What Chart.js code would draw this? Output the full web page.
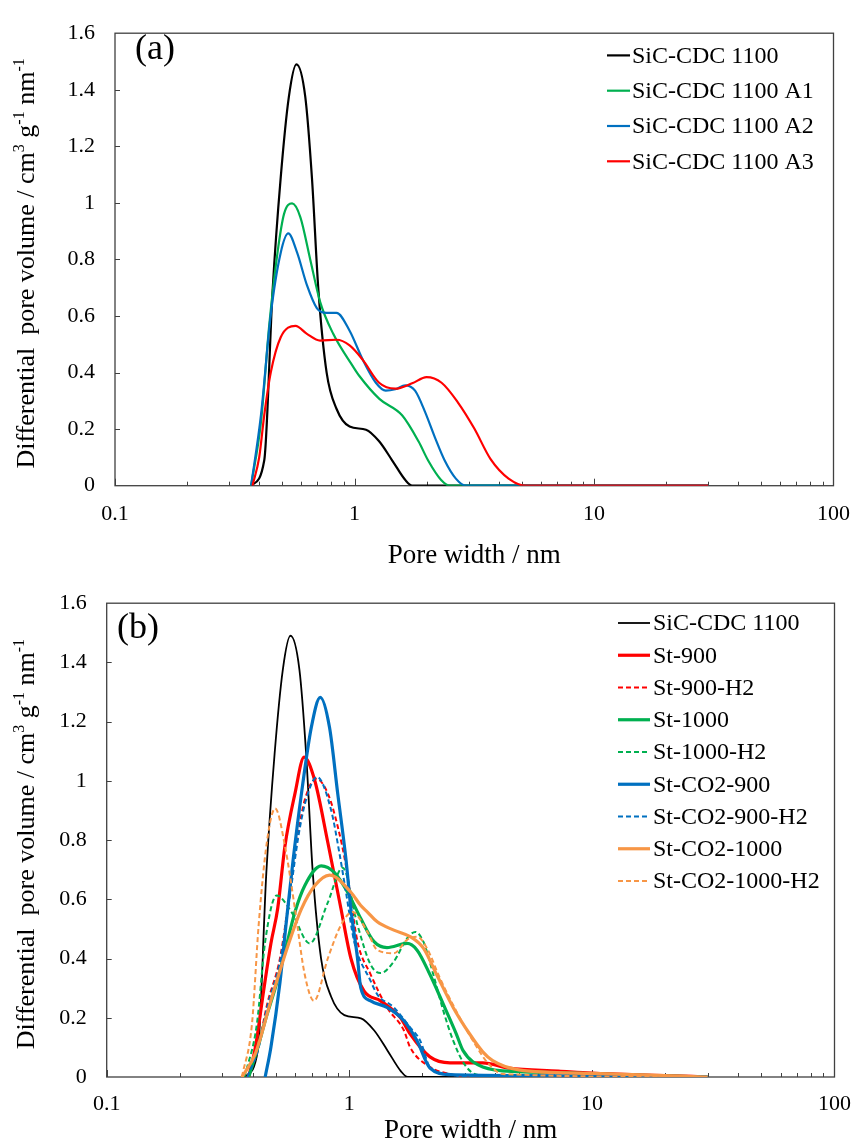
<!DOCTYPE html>
<html lang="en">
<head>
  <meta charset="UTF-8" />
  <title>Pore size distribution</title>
  <script src="https://cdn.jsdelivr.net/npm/chart.js"></script>
  <style>
    body { margin: 0; background: #fff; }
    .panel { position: absolute; left: 0; width: 865px; }
    #panelA { top: 0; height: 570px; }
    #panelB { top: 570px; height: 572px; }
  </style>
</head>
<body>
  <div class="panel" id="panelA"><canvas id="chartA"></canvas></div>
  <div class="panel" id="panelB"><canvas id="chartB"></canvas></div>

  <script>
    // ---- tick values ----
    const xTickValues = [0.1, 1, 10, 100];
    const yMin = 0, yMax = 1.6, yStep = 0.2;

    // ---- shared reference sample ----
    const cdcX = [0.37, 0.42, 0.455, 0.492, 0.532, 0.572, 0.623, 0.664, 0.707, 0.765, 0.841, 0.954, 1.117, 1.267, 1.438, 1.63, 1.74, 30];
    const cdcY = [0, 0.09, 0.69, 1.09, 1.375, 1.49, 1.375, 1.09, 0.69, 0.40, 0.272, 0.209, 0.198, 0.157, 0.089, 0.02, 0, 0];

    // ---- panel (a) ----
    const labelsA = ['SiC-CDC 1100', 'SiC-CDC 1100 A1', 'SiC-CDC 1100 A2', 'SiC-CDC 1100 A3'];
    const a1X = [0.37, 0.407, 0.441, 0.477, 0.508, 0.549, 0.594, 0.653, 0.718, 0.815, 0.985, 1.05, 1.27, 1.58, 1.85, 2.03, 2.3, 2.5, 30];
    const a1Y = [0, 0.226, 0.571, 0.824, 0.961, 0.998, 0.95, 0.801, 0.651, 0.537, 0.422, 0.387, 0.307, 0.249, 0.157, 0.089, 0.02, 0, 0];
    const a2X = [0.37, 0.407, 0.447, 0.492, 0.529, 0.576, 0.633, 0.696, 0.765, 0.841, 0.954, 1.083, 1.228, 1.35, 1.48, 1.63, 1.79, 1.97, 2.17, 2.38, 2.65, 2.92, 30];
    const a2Y = [0, 0.25, 0.605, 0.824, 0.892, 0.824, 0.709, 0.628, 0.611, 0.611, 0.548, 0.445, 0.364, 0.336, 0.341, 0.355, 0.336, 0.261, 0.169, 0.089, 0.025, 0, 0];
    const a3X = [0.375, 0.40, 0.42, 0.447, 0.492, 0.567, 0.633, 0.718, 0.841, 0.954, 1.083, 1.267, 1.48, 1.74, 2.0, 2.31, 2.7, 3.16, 3.7, 4.4, 5.2, 30];
    const a3Y = [0, 0.1, 0.25, 0.40, 0.525, 0.565, 0.537, 0.513, 0.516, 0.496, 0.445, 0.364, 0.343, 0.362, 0.384, 0.364, 0.295, 0.203, 0.094, 0.025, 0, 0];

    // ---- panel (b) ----
    const labelsB = ['SiC-CDC 1100', 'St-900', 'St-900-H2', 'St-1000', 'St-1000-H2', 'St-CO2-900', 'St-CO2-900-H2', 'St-CO2-1000', 'St-CO2-1000-H2'];
    const st900X = [0.385, 0.41, 0.445, 0.475, 0.507, 0.543, 0.597, 0.651, 0.72, 0.816, 0.924, 1.015, 1.151, 1.345, 1.623, 1.78, 2.15, 2.6, 3.55, 4.56, 7.28, 10, 20, 30];
    const st900Y = [0, 0.1, 0.3, 0.45, 0.57, 0.78, 0.957, 1.08, 1.002, 0.791, 0.568, 0.401, 0.29, 0.257, 0.201, 0.146, 0.068, 0.048, 0.048, 0.03, 0.02, 0.013, 0.005, 0];
    const st900h2X = [0.38, 0.42, 0.46, 0.518, 0.569, 0.616, 0.655, 0.731, 0.816, 0.896, 0.969, 1.081, 1.225, 1.43, 1.68, 1.78, 2.15, 2.6, 3.0, 30];
    const st900h2Y = [0, 0.1, 0.25, 0.401, 0.624, 0.824, 0.935, 1.007, 0.957, 0.846, 0.713, 0.457, 0.346, 0.235, 0.157, 0.101, 0.034, 0.01, 0, 0];
    const st1000X = [0.385, 0.42, 0.45, 0.495, 0.543, 0.597, 0.655, 0.766, 0.869, 0.984, 1.115, 1.265, 1.43, 1.73, 1.9, 2.15, 2.44, 2.76, 2.94, 3.55, 5, 7.3, 13.6, 30];
    const st1000Y = [0, 0.1, 0.19, 0.3, 0.424, 0.557, 0.646, 0.713, 0.69, 0.624, 0.535, 0.457, 0.437, 0.451, 0.429, 0.346, 0.246, 0.146, 0.09, 0.034, 0.018, 0.015, 0.007, 0];
    const st1000h2X = [0.37, 0.416, 0.45, 0.502, 0.578, 0.687, 0.816, 0.939, 1.081, 1.225, 1.345, 1.526, 1.73, 1.87, 2.02, 2.22, 2.44, 2.68, 3.0, 3.4, 30];
    const st1000h2Y = [0, 0.179, 0.457, 0.613, 0.557, 0.451, 0.59, 0.707, 0.513, 0.379, 0.351, 0.39, 0.468, 0.49, 0.457, 0.346, 0.224, 0.123, 0.04, 0.007, 0];
    const co900X = [0.45, 0.475, 0.518, 0.551, 0.587, 0.635, 0.697, 0.759, 0.829, 0.896, 0.969, 1.015, 1.081, 1.115, 1.225, 1.43, 1.68, 1.9, 2.15, 2.6, 5, 15, 30];
    const co900Y = [0, 0.1, 0.32, 0.53, 0.735, 0.957, 1.18, 1.282, 1.18, 0.957, 0.735, 0.568, 0.401, 0.301, 0.257, 0.235, 0.19, 0.123, 0.03, 0.008, 0.005, 0.003, 0];
    const co900h2X = [0.38, 0.42, 0.46, 0.518, 0.569, 0.616, 0.66, 0.736, 0.841, 0.91, 0.969, 1.048, 1.225, 1.304, 1.526, 1.78, 1.96, 2.15, 2.6, 3.0, 30];
    const co900h2Y = [0, 0.09, 0.24, 0.39, 0.61, 0.81, 0.93, 1.013, 0.902, 0.757, 0.624, 0.457, 0.324, 0.279, 0.235, 0.168, 0.123, 0.034, 0.01, 0, 0];
    const co1000X = [0.361, 0.41, 0.479, 0.56, 0.635, 0.72, 0.829, 1.015, 1.115, 1.188, 1.304, 1.526, 1.78, 2.02, 2.29, 2.68, 3.13, 3.55, 3.9, 5.0, 10, 20, 30];
    const co1000Y = [0, 0.079, 0.268, 0.446, 0.568, 0.646, 0.682, 0.624, 0.579, 0.557, 0.524, 0.496, 0.474, 0.435, 0.346, 0.235, 0.146, 0.085, 0.055, 0.024, 0.012, 0.005, 0];
    const co1000h2X = [0.361, 0.397, 0.423, 0.457, 0.495, 0.543, 0.597, 0.655, 0.715, 0.816, 0.924, 1.03, 1.188, 1.3, 1.526, 1.73, 1.9, 2.09, 2.36, 2.85, 3.23, 3.7, 4.3, 30];
    const co1000h2Y = [0, 0.179, 0.513, 0.791, 0.907, 0.78, 0.568, 0.346, 0.257, 0.401, 0.513, 0.557, 0.49, 0.43, 0.418, 0.463, 0.474, 0.435, 0.335, 0.201, 0.123, 0.05, 0.01, 0];

    // ---- styles ----
    const BLACK = '#000000', GREEN = '#00b050', BLUE = '#0070c0', RED = '#ff0000', ORANGE = '#f79646';
    const frameColor = '#404040';
    const serif = "'Liberation Serif', 'Times New Roman', serif";
    const DASH = [5, 3];

    function pts(xs, ys) {
      return xs.map((x, i) => ({ x: x, y: ys[i] }));
    }

    function series(label, xs, ys, color, width, dash, i) {
      return {
        label: label,
        data: pts(xs, ys),
        borderColor: color,
        backgroundColor: color,
        borderWidth: width,
        borderDash: dash || [],
        pointRadius: 0,
        fill: false,
        cubicInterpolationMode: 'monotone',
        order: -i
      };
    }

    // axes decoration, legend and titles
    const decor = {
      id: 'decor',
      beforeDatasetsDraw(chart, args, o) {
        const { ctx, chartArea: a, scales } = chart;
        const x = scales.x, y = scales.y;
        ctx.save();
        ctx.strokeStyle = frameColor;
        ctx.lineWidth = 1.3;
        ctx.strokeRect(a.left, a.top, a.right - a.left, a.bottom - a.top);
        ctx.lineWidth = 1;
        ctx.beginPath();
        for (let e = -1; e <= 1; e++) {
          for (let k = 1; k <= 9; k++) {
            const v = k * Math.pow(10, e);
            const px = Math.round(x.getPixelForValue(v)) + 0.5;
            const len = k === 1 ? 7 : 4;
            ctx.moveTo(px, a.bottom);
            ctx.lineTo(px, a.bottom - len);
          }
        }
        for (let v = yMin + yStep; v < yMax - 0.01; v += yStep) {
          const py = Math.round(y.getPixelForValue(v)) + 0.5;
          ctx.moveTo(a.left, py);
          ctx.lineTo(a.left + 5, py);
        }
        ctx.stroke();
        ctx.restore();
      },
      afterDraw(chart, args, o) {
        const { ctx, chartArea: a } = chart;
        ctx.save();
        ctx.fillStyle = '#000';

        // panel label
        ctx.font = '36px ' + serif;
        ctx.textBaseline = 'alphabetic';
        ctx.textAlign = 'left';
        ctx.fillText(o.tag, o.tagX, o.tagY);

        // legend
        ctx.font = '24px ' + serif;
        ctx.textBaseline = 'middle';
        chart.data.datasets.forEach((ds, i) => {
          const yy = o.legY + i * o.legStep;
          ctx.strokeStyle = ds.borderColor;
          ctx.lineWidth = ds.borderWidth;
          ctx.setLineDash(ds.borderDash);
          ctx.beginPath();
          ctx.moveTo(o.legX0, yy);
          ctx.lineTo(o.legX1, yy);
          ctx.stroke();
          ctx.setLineDash([]);
          ctx.fillText(ds.label, o.legText, yy + 1);
        });

        // x title
        ctx.textBaseline = 'alphabetic';
        ctx.textAlign = 'center';
        ctx.font = '27px ' + serif;
        ctx.fillText('Pore width / nm', (a.left + a.right) / 2, o.xTitleY);

        // y title with superscripts
        const parts = [
          ['Differential  pore volume / cm', false], ['3', true], [' g', false],
          ['-1', true], [' nm', false], ['-1', true]
        ];
        const big = '26px ' + serif, small = '16px ' + serif;
        let total = 0;
        parts.forEach(p => { ctx.font = p[1] ? small : big; total += ctx.measureText(p[0]).width; });
        ctx.translate(o.yTitleX, (a.top + a.bottom) / 2 + 4);
        ctx.rotate(-Math.PI / 2);
        ctx.textAlign = 'left';
        let cx = -total / 2;
        parts.forEach(p => {
          ctx.font = p[1] ? small : big;
          ctx.fillText(p[0], cx, p[1] ? -10.5 : 0);
          cx += ctx.measureText(p[0]).width;
        });
        ctx.restore();
      }
    };

    function buildOptions(g) {
      const tickFont = { family: serif, size: 22 };
      return {
        responsive: true,
        maintainAspectRatio: false,
        animation: false,
        layout: { padding: { left: 0, top: g.top, right: g.right, bottom: 0 } },
        plugins: {
          legend: { display: false },
          tooltip: { enabled: false },
          decor: g.decor
        },
        scales: {
          x: {
            type: 'logarithmic',
            min: 0.1,
            max: 100,
            grid: { display: false, drawTicks: false },
            border: { display: false },
            afterBuildTicks: s => { s.ticks = xTickValues.map(v => ({ value: v })); },
            afterFit: s => { s.height = g.xH; },
            ticks: {
              padding: g.xPad,
              color: '#000',
              font: tickFont,
              maxRotation: 0,
              autoSkip: false,
              callback: v => String(v)
            }
          },
          y: {
            min: yMin,
            max: yMax,
            grid: { display: false, drawTicks: false },
            border: { display: false },
            afterFit: s => { s.width = g.yW; },
            ticks: {
              stepSize: yStep,
              padding: 20,
              color: '#000',
              font: tickFont,
              callback: v => String(+v.toFixed(1))
            }
          }
        }
      };
    }

    new Chart(document.getElementById('chartA'), {
      type: 'line',
      data: {
        datasets: [
          series(labelsA[0], cdcX, cdcY, BLACK, 2.2, null, 0),
          series(labelsA[1], a1X, a1Y, GREEN, 2.2, null, 1),
          series(labelsA[2], a2X, a2Y, BLUE, 2.2, null, 2),
          series(labelsA[3], a3X, a3Y, RED, 2.2, null, 3)
        ]
      },
      options: buildOptions({
        top: 21.4, right: 20, yW: 115, xH: 84.3, xPad: 15,
        decor: {
          tag: '(a)', tagX: 135, tagY: 59,
          legX0: 607, legX1: 630, legText: 632, legY: 55.4, legStep: 35.3,
          xTitleY: 563, yTitleX: 34
        }
      }),
      plugins: [decor]
    });

    new Chart(document.getElementById('chartB'), {
      type: 'line',
      data: {
        datasets: [
          series(labelsB[0], cdcX, cdcY, BLACK, 1.8, null, 0),
          series(labelsB[1], st900X, st900Y, RED, 3.2, null, 1),
          series(labelsB[2], st900h2X, st900h2Y, RED, 2, DASH, 2),
          series(labelsB[3], st1000X, st1000Y, GREEN, 3.2, null, 3),
          series(labelsB[4], st1000h2X, st1000h2Y, GREEN, 2, DASH, 4),
          series(labelsB[5], co900X, co900Y, BLUE, 3.2, null, 5),
          series(labelsB[6], co900h2X, co900h2Y, BLUE, 2, DASH, 6),
          series(labelsB[7], co1000X, co1000Y, ORANGE, 3.2, null, 7),
          series(labelsB[8], co1000h2X, co1000h2Y, ORANGE, 2, DASH, 8)
        ]
      },
      options: buildOptions({
        top: 27.4, right: 22.7, yW: 106.7, xH: 65, xPad: 14,
        decor: {
          tag: '(b)', tagX: 117, tagY: 68,
          legX0: 618, legX1: 650, legText: 653, legY: 53, legStep: 32.25,
          xTitleY: 568, yTitleX: 34
        }
      }),
      plugins: [decor]
    });
  </script>
</body>
</html>
